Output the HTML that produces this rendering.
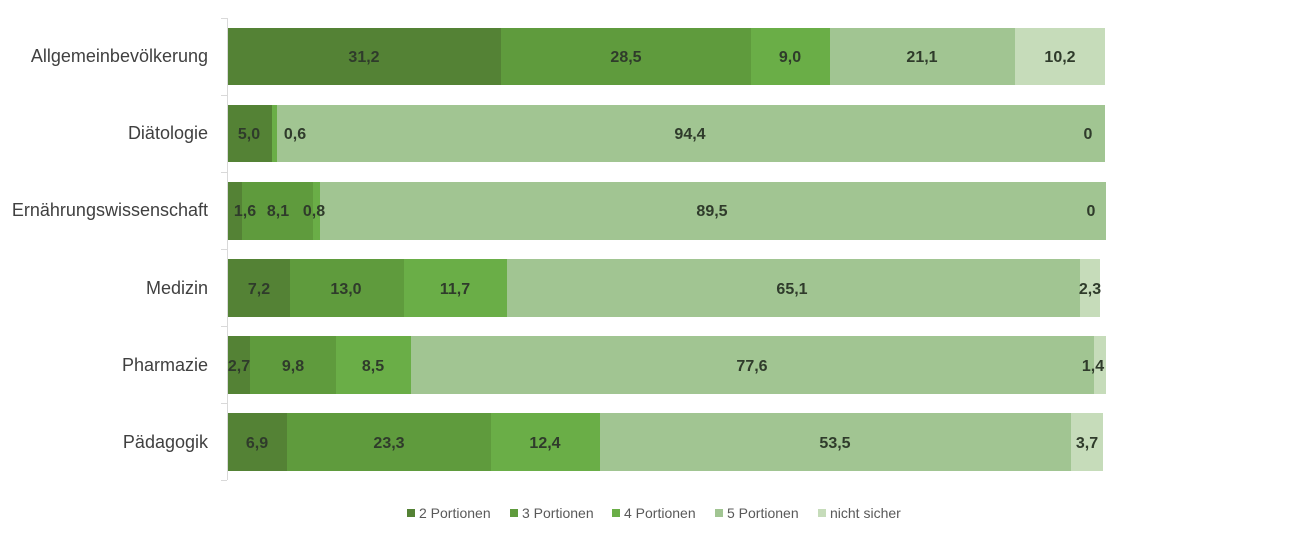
<!DOCTYPE html>
<html><head><meta charset="utf-8"><style>
html,body{margin:0;padding:0;background:#fff;}
svg{display:block;}
.c{font-family:"Liberation Sans",sans-serif;font-size:18px;fill:#404040;}
.v{font-family:"Liberation Sans",sans-serif;font-size:16px;font-weight:bold;fill:#2f3b2b;}
.l{font-family:"Liberation Sans",sans-serif;font-size:14px;fill:#595959;}
</style></head><body>
<svg width="1300" height="538" viewBox="0 0 1300 538">
<g stroke="#d9d9d9" stroke-width="1">
<line x1="227.5" y1="18" x2="227.5" y2="480"/>
<line x1="221" y1="18.5" x2="227" y2="18.5"/><line x1="221" y1="95.5" x2="227" y2="95.5"/>
<line x1="221" y1="172.5" x2="227" y2="172.5"/><line x1="221" y1="249.5" x2="227" y2="249.5"/>
<line x1="221" y1="326.5" x2="227" y2="326.5"/><line x1="221" y1="403.5" x2="227" y2="403.5"/>
<line x1="221" y1="480.5" x2="227" y2="480.5"/>
</g>
<g text-anchor="end" class="c">
<text x="208" y="62">Allgemeinbevölkerung</text>
<text x="208" y="139">Diätologie</text>
<text x="208" y="216">Ernährungswissenschaft</text>
<text x="208" y="294">Medizin</text>
<text x="208" y="371">Pharmazie</text>
<text x="208" y="448">Pädagogik</text>
</g>
<rect x="228" y="28" width="273" height="57" fill="#548235"/>
<rect x="501" y="28" width="250" height="57" fill="#5f9b3d"/>
<rect x="751" y="28" width="79" height="57" fill="#6aae47"/>
<rect x="830" y="28" width="185" height="57" fill="#a1c592"/>
<rect x="1015" y="28" width="90" height="57" fill="#c6dcba"/>
<rect x="228" y="105" width="44" height="57" fill="#548235"/>
<rect x="272" y="105" width="5" height="57" fill="#6aae47"/>
<rect x="277" y="105" width="828" height="57" fill="#a1c592"/>
<rect x="228" y="182" width="14" height="58" fill="#548235"/>
<rect x="242" y="182" width="71" height="58" fill="#5f9b3d"/>
<rect x="313" y="182" width="7" height="58" fill="#6aae47"/>
<rect x="320" y="182" width="786" height="58" fill="#a1c592"/>
<rect x="228" y="259" width="62" height="58" fill="#548235"/>
<rect x="290" y="259" width="114" height="58" fill="#5f9b3d"/>
<rect x="404" y="259" width="103" height="58" fill="#6aae47"/>
<rect x="507" y="259" width="573" height="58" fill="#a1c592"/>
<rect x="1080" y="259" width="20" height="58" fill="#c6dcba"/>
<rect x="228" y="336" width="22" height="58" fill="#548235"/>
<rect x="250" y="336" width="86" height="58" fill="#5f9b3d"/>
<rect x="336" y="336" width="75" height="58" fill="#6aae47"/>
<rect x="411" y="336" width="683" height="58" fill="#a1c592"/>
<rect x="1094" y="336" width="12" height="58" fill="#c6dcba"/>
<rect x="228" y="413" width="59" height="58" fill="#548235"/>
<rect x="287" y="413" width="204" height="58" fill="#5f9b3d"/>
<rect x="491" y="413" width="109" height="58" fill="#6aae47"/>
<rect x="600" y="413" width="471" height="58" fill="#a1c592"/>
<rect x="1071" y="413" width="32" height="58" fill="#c6dcba"/>
<g class="v" text-anchor="middle">
<text x="364" y="62">31,2</text><text x="626" y="62">28,5</text><text x="790" y="62">9,0</text><text x="922" y="62">21,1</text><text x="1060" y="62">10,2</text>
<text x="249" y="139">5,0</text><text x="295" y="139">0,6</text><text x="690" y="139">94,4</text><text x="1088" y="139">0</text>
<text x="245" y="216">1,6</text><text x="278" y="216">8,1</text><text x="314" y="216">0,8</text><text x="712" y="216">89,5</text><text x="1091" y="216">0</text>
<text x="259" y="294">7,2</text><text x="346" y="294">13,0</text><text x="455" y="294">11,7</text><text x="792" y="294">65,1</text><text x="1090" y="294">2,3</text>
<text x="239" y="371">2,7</text><text x="293" y="371">9,8</text><text x="373" y="371">8,5</text><text x="752" y="371">77,6</text><text x="1093" y="371">1,4</text>
<text x="257" y="448">6,9</text><text x="389" y="448">23,3</text><text x="545" y="448">12,4</text><text x="835" y="448">53,5</text><text x="1087" y="448">3,7</text>
</g>
<g class="l">
<rect x="407" y="509" width="8" height="8" fill="#548235"/><text x="419" y="518">2 Portionen</text>
<rect x="510" y="509" width="8" height="8" fill="#5f9b3d"/><text x="522" y="518">3 Portionen</text>
<rect x="612" y="509" width="8" height="8" fill="#6aae47"/><text x="624" y="518">4 Portionen</text>
<rect x="715" y="509" width="8" height="8" fill="#a1c592"/><text x="727" y="518">5 Portionen</text>
<rect x="818" y="509" width="8" height="8" fill="#c6dcba"/><text x="830" y="518">nicht sicher</text>
</g>
</svg>
</body></html>
